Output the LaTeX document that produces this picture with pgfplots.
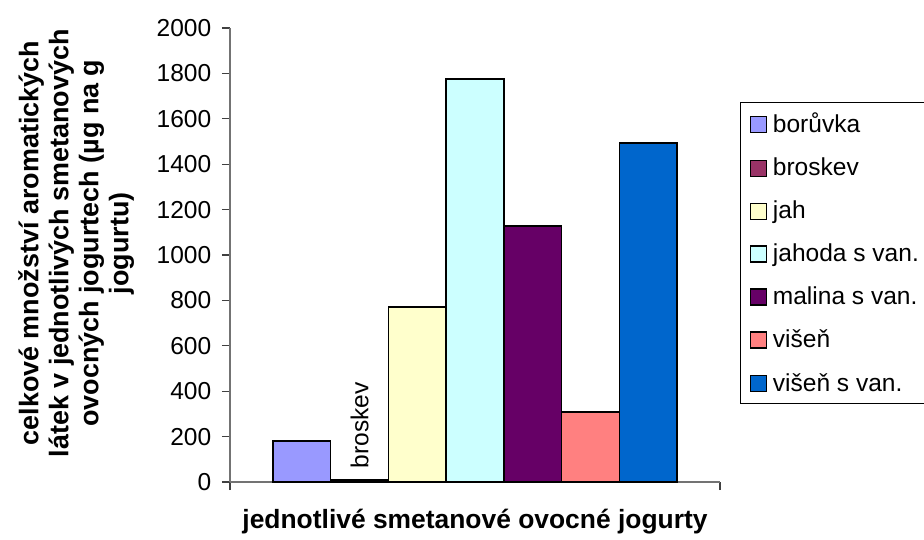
\documentclass[border=0pt]{standalone}
\usepackage{pgfplots}
\pgfplotsset{compat=1.18}
\usepackage{fontspec}
\setmainfont{Liberation Sans}
\definecolor{c1}{HTML}{9999FF}
\definecolor{c2}{HTML}{993366}
\definecolor{c3}{HTML}{FFFFCC}
\definecolor{c4}{HTML}{CCFFFF}
\definecolor{c5}{HTML}{660066}
\definecolor{c6}{HTML}{FF8080}
\definecolor{c7}{HTML}{0066CC}
\begin{document}
\begin{tikzpicture}
\begin{axis}[
  name=ax,
  scale only axis,
  width=367.5pt, height=340.5pt,
  xmin=-0.5, xmax=0.5, ymin=0, ymax=2000,
  axis lines*=left,
  axis line style={black!55, line width=0.9pt, -},
  tick style={black!75, line width=0.9pt},
  tick align=outside,
  major tick length=6pt,
  xtick={-0.5,0.5}, xticklabels={},
  ytick={0,200,...,2000},
  /pgf/number format/assume math mode=true,
  /pgf/number format/1000 sep={},
  yticklabel style={font=\fontsize{18.4}{22}\selectfont, xshift=-4.5pt},
  ybar=0pt, bar width=43.3pt,
  every axis plot/.append style={draw=black, line width=1pt},
  ylabel={celkové množství aromatických\\látek v jednotlivých smetanových\\ovocných jogurtech (µg na g\\jogurtu)},
  ylabel style={font=\bfseries\fontsize{20.2}{22.5}\selectfont, align=center, at={(rel axis cs:-0.314,0.526)}, anchor=center},
  xlabel={jednotlivé smetanové ovocné jogurty},
  xlabel style={font=\bfseries\fontsize{19.8}{22}\selectfont, at={(rel axis cs:0.5,-0.088)}, anchor=center},
  legend style={at={(rel axis cs:1.0408,0.837)}, anchor=north west, draw=black, line width=0.8pt,
    font=\fontsize{18.4}{22}\selectfont, row sep=13.4pt, inner xsep=7pt, inner ysep=6pt,
    /tikz/every odd column/.append style={column sep=2.5pt}},
  legend cell align=left,
  legend image code/.code={\draw[#1, line width=0.8pt] (0pt,-6pt) rectangle (12pt,6pt);},
]
\addplot[fill=c1] coordinates {(0,181)};
\addplot[fill=c2, nodes near coords={broskev}, every node near coord/.append style={rotate=90, anchor=west, font=\fontsize{18.4}{22}\selectfont, black, xshift=5pt}] coordinates {(0,9)};
\addplot[fill=c3] coordinates {(0,771)};
\addplot[fill=c4] coordinates {(0,1775)};
\addplot[fill=c5] coordinates {(0,1128)};
\addplot[fill=c6] coordinates {(0,308)};
\addplot[fill=c7] coordinates {(0,1493)};
\legend{borůvka, broskev, jah, jahoda s van., malina s van., višeň, višeň s van.}
\end{axis}
\pgfresetboundingbox
\path[use as bounding box] ([xshift=-172.5pt,yshift=-42.75pt]ax.south west) rectangle ([xshift=520.5pt,yshift=361.5pt]ax.south west);
\end{tikzpicture}
\end{document}
